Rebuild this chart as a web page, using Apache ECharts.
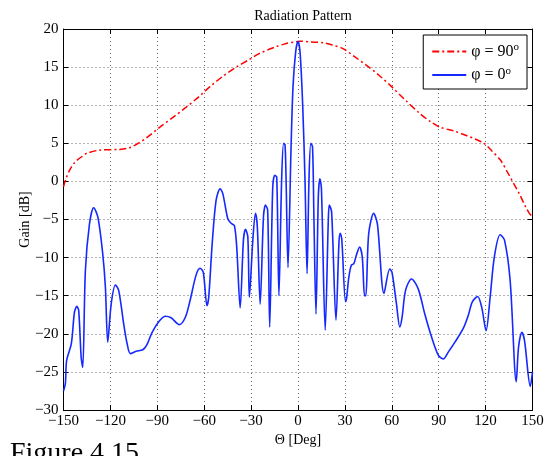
<!DOCTYPE html>
<html>
<head>
<meta charset="utf-8">
<script src="https://cdn.jsdelivr.net/npm/echarts@6/dist/echarts.min.js"></script>
<style>
  html, body { margin: 0; padding: 0; background: #fff; }
  #chart { width: 551px; height: 456px; }
</style>
</head>
<body>
<div id="chart"></div>
<script>
// tick labels
const thetaTicks = [-150, -120, -90, -60, -30, 0, 30, 60, 90, 120, 150];
const gainTicks = [-30, -25, -20, -15, -10, -5, 0, 5, 10, 15, 20];

// phi = 90 deg cut  [theta, gain dB]
const phi90 = [
  [-150, -0.7], [-148.5, 0.3], [-146, 1.5], [-142.8, 2.5], [-138, 3.3], [-135, 3.7],
  [-127, 4.1], [-114, 4.2], [-108, 4.4], [-103, 4.9], [-97, 5.7], [-88.5, 7.1],
  [-80, 8.4], [-71.5, 9.75], [-64, 11], [-56.5, 12.4], [-48, 13.8], [-39.5, 15.0],
  [-32, 15.9], [-24.5, 16.8], [-15, 17.6], [-7.5, 18.1], [-2, 18.3], [1, 18.4],
  [8, 18.3], [16, 18.2], [22, 17.9], [29, 17.4], [36, 16.4], [44, 15.2],
  [52, 13.9], [59, 12.6], [68, 10.8], [78, 8.9], [85, 7.8], [91, 7.1],
  [100, 6.6], [108, 6.0], [114, 5.5], [119, 5.0], [124, 4.0], [129.5, 2.8],
  [134, 1.2], [138, -0.3], [142, -1.8], [145.5, -3.3], [148, -4.2], [150, -4.6]
];

// phi = 0 deg cut  [theta, gain dB]
const phi0 = [
  [-150, -27.5], [-148.8, -26.5], [-148, -23.5], [-145, -21.3], [-143, -17.2],
  [-141.5, -16.4], [-140.3, -16.9], [-138.7, -23.1], [-137.7, -24.4], [-136, -11.7],
  [-133.4, -5.6], [-130.7, -3.45], [-128, -4.7], [-124.9, -9.5], [-123.2, -13.9],
  [-121.7, -21.1], [-119.5, -16.1], [-116.8, -13.6], [-114.7, -14.3], [-111.5, -18.7],
  [-109.3, -21.3], [-107.2, -22.6], [-103.6, -22.3], [-99.3, -22.1], [-96.8, -21.5],
  [-93.3, -19.8], [-88.6, -18.3], [-84.8, -17.7], [-81.2, -17.9], [-75.8, -18.8],
  [-72, -17.8], [-69, -15.6], [-65.2, -12.3], [-62.6, -11.4], [-60.6, -11.9],
  [-58.2, -16.3], [-57.1, -15.2], [-54.9, -8.2], [-52.4, -2.5], [-49.8, -0.96],
  [-48.1, -1.6], [-44.9, -4.9], [-42.8, -5.5], [-40.7, -5.8], [-39.2, -8.6],
  [-37, -16.6], [-34.9, -7.7], [-33.6, -6.3], [-32.1, -7.3], [-31.1, -15.2],
  [-28.9, -7.7], [-27.2, -4.2], [-26, -6], [-24.2, -16.1], [-22.1, -4.7],
  [-20.8, -3.1], [-19.4, -3.8], [-18.1, -19.1], [-16.2, -0.96], [-14.9, 0.8],
  [-13.6, 0.56], [-12.2, -15], [-10.5, 0], [-9.2, 5.0], [-8.3, 4.8],
  [-7.6, 0], [-6.4, -11.3], [-4.5, 4], [-3.2, 12.4], [-1.5, 17],
  [0, 18.4], [1.3, 17], [3, 10], [4.5, 0], [5.8, -12.1],
  [7, 0], [8.2, 5.0], [9.3, 4.5], [10.2, -5], [11.5, -17.4],
  [13, -2], [14, 0.35], [15, -1], [17.4, -19.5], [19.4, -5],
  [20, -3.1], [21.5, -4.0], [24.3, -18.2], [26.2, -8], [27, -6.8],
  [28, -7.6], [30.4, -15.8], [31.1, -15.3], [32.5, -12.6], [34.1, -11.0],
  [35.7, -10.8], [37.3, -9.7], [39.4, -8.6], [41.1, -9.9], [42.6, -15],
  [43.4, -15], [45.2, -6.9], [48.4, -4.2], [50.8, -5.6], [55, -14.7],
  [58.7, -11.5], [60.1, -11.9], [63, -16.1], [65.1, -19.1], [66.6, -17.8],
  [68.8, -14.3], [72.6, -12.8], [76.9, -14.1], [81.1, -17.4], [85.4, -20.4],
  [89.7, -22.8], [92.9, -23.3], [96.1, -22.4], [100.4, -21.1], [105.7, -19.3],
  [108.9, -17.6], [111.5, -15.8], [114.9, -15.1], [117.5, -16.5], [120.3, -19.6],
  [122.9, -15.2], [125.6, -9.9], [129.3, -7.0], [132.1, -7.7], [135.7, -13],
  [139.6, -26.3], [141.1, -21.7], [143.2, -19.8], [144.9, -20.9], [148.6, -26.9],
  [150, -25.0]
];

const seriesNames = ['\u03c6 = 90°', '\u03c6 = 0°'];

const serif = 'Liberation Serif';
const minus = v => String(v).replace('-', '\u2212');

const chart = echarts.init(document.getElementById('chart'));

const gridLine = { show: true, lineStyle: { color: '#666', type: [1, 3], width: 1 } };
const frameAxis = { onZero: false, lineStyle: { color: '#000', width: 1 } };
const tick = { inside: true, length: 5, lineStyle: { color: '#000' } };

chart.setOption({
  animation: false,
  backgroundColor: '#fff',
  title: {
    text: 'Radiation Pattern',
    left: 298, top: 4, textAlign: 'center',
    textStyle: { fontFamily: serif, fontWeight: 'normal', fontSize: 14, color: '#000' }
  },
  grid: { left: 63.5, right: 18.5, top: 29, bottom: 46 },
  legend: {
    orient: 'vertical',
    right: 24, top: 35,
    backgroundColor: '#fff',
    borderColor: '#000', borderWidth: 1,
    padding: [7, 8, 6, 8],
    itemGap: 6,
    itemWidth: 34, itemHeight: 14,
    itemStyle: { color: 'rgba(0,0,0,0)', borderWidth: 0, opacity: 0 },
    textStyle: {
      fontFamily: serif, fontSize: 16, color: '#000',
      rich: { sup: { fontFamily: serif, fontSize: 11, verticalAlign: 'top', padding: [0, 0, 8, 0] } }
    },
    formatter: name => name.replace('°', '{sup|o}'),
    data: seriesNames
  },
  xAxis: [{
    type: 'value', min: -150, max: 150, interval: 30,
    name: '\u0398 [Deg]', nameLocation: 'middle', nameGap: 23, nameMoveOverlap: false,
    nameTextStyle: { fontFamily: serif, fontSize: 14, color: '#000' },
    axisLine: frameAxis, axisTick: tick,
    axisLabel: { fontFamily: serif, fontSize: 15, color: '#000', margin: 4, formatter: minus },
    splitLine: gridLine
  }, {
    type: 'value', min: -150, max: 150, interval: 30, position: 'top',
    axisLine: frameAxis, axisTick: tick,
    axisLabel: { show: false }, splitLine: { show: false }
  }],
  yAxis: [{
    type: 'value', min: -30, max: 20, interval: 5,
    name: 'Gain [dB]', nameLocation: 'middle', nameGap: 31, nameMoveOverlap: false,
    nameTextStyle: { fontFamily: serif, fontSize: 14, color: '#000' },
    axisLine: frameAxis, axisTick: tick,
    axisLabel: { fontFamily: serif, fontSize: 15, color: '#000', margin: 5, formatter: minus },
    splitLine: gridLine
  }, {
    type: 'value', min: -30, max: 20, interval: 5, position: 'right',
    axisLine: frameAxis, axisTick: tick,
    axisLabel: { show: false }, splitLine: { show: false }
  }],
  series: [{
    name: seriesNames[0], type: 'line', data: phi90, symbol: 'none', smooth: 0.3,
    lineStyle: { color: '#ff0000', width: 1.5, type: [7, 3, 2, 3] },
    itemStyle: { color: '#ff0000' }
  }, {
    name: seriesNames[1], type: 'line', data: phi0, symbol: 'none', smooth: 0.3,
    lineStyle: { color: '#1428ff', width: 1.6 },
    itemStyle: { color: '#1428ff' }
  }],
  graphic: [{
    type: 'text', left: 10, top: 440,
    style: { text: 'Figure 4.15', fontFamily: serif, fontSize: 28, fill: '#000' }
  }]
});
</script>
</body>
</html>
